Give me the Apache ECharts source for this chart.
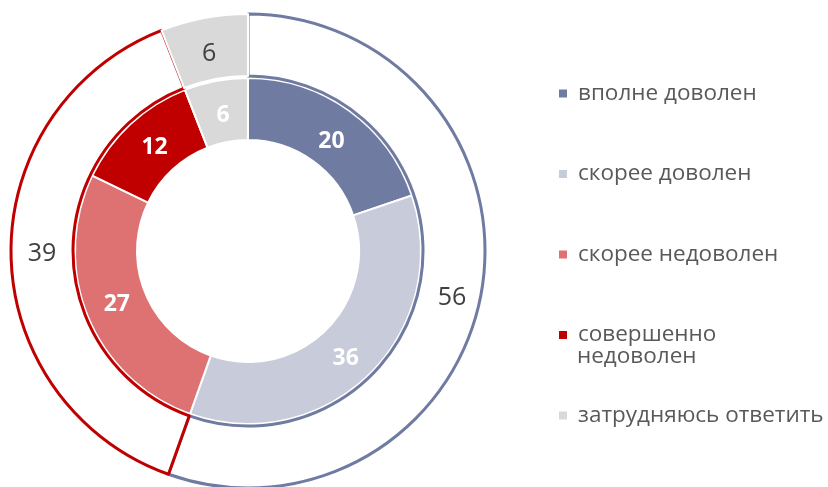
<!DOCTYPE html>
<html><head><meta charset="utf-8">
<script src="https://cdn.jsdelivr.net/npm/echarts@6/dist/echarts.min.js"></script>
<style>html,body{margin:0;padding:0;background:#fff}#c{width:828px;height:487px}</style>
</head><body><div id="c"></div>
<script>
const categories = ['вполне доволен','скорее доволен','скорее недоволен','совершенно недоволен','затрудняюсь ответить'];
const innerValues = [20, 36, 27, 12, 6];
const innerColors = ['#6F7BA1','#C8CBDA','#DE7171','#C00000','#D9D9D9'];
const outerNames = ['довольны','недовольны','затрудняются'];
const outerValues = [56, 39, 6];
const outerBorders = ['#6F7BA1','#C00000','#FFFFFF'];
const outerFills = ['#FFFFFF','#FFFFFF','#D9D9D9'];
const innerLabelOffsets = [[-1,8],[-4,4],[3,-2],[5,3],[2,7]];
const outerLabelOffsets = [[-2,11],[3,0],[0,8]];

const chart = echarts.init(document.getElementById('c'), null, {renderer:'canvas'});
const font = '"Open Sans", "Noto Sans", sans-serif';
chart.setOption({
  animation:false,
  legend:{
    orient:'vertical', left:552, top:77,
    itemWidth:10, itemHeight:10, itemGap:57.5, icon:'rect',
    selectedMode:false,
    data: categories,
    formatter: n => n === 'совершенно недоволен' ? 'совершенно' : n,
    textStyle:{color:'#595959', fontSize:22.5, fontFamily:font, lineHeight:20, padding:[0,0,0,5]}
  },
  graphic:[{type:'text', x:577, y:357, silent:true,
    style:{text:'недоволен', fill:'#595959', fontSize:22.5, fontFamily:font, verticalAlign:'middle'}}],
  series:[
    {type:'pie', center:[248,251], radius:[111,173], startAngle:90, silent:true,
     label:{show:true, position:'inside', formatter:'{c}', color:'#fff', fontWeight:'bold', fontSize:23, fontFamily:font},
     labelLine:{show:false},
     itemStyle:{borderColor:'#fff', borderWidth:2},
     data: categories.map((n,i)=>({name:n, value:innerValues[i], itemStyle:{color:innerColors[i]},
       label:{offset:innerLabelOffsets[i]}}))
    },
    {type:'pie', center:[248,251], radius:[175,237], startAngle:90, silent:true,
     label:{show:true, position:'inside', formatter:'{c}', color:'#404040', fontSize:25, fontFamily:font},
     labelLine:{show:false},
     data: outerNames.map((n,i)=>({name:n, value:outerValues[i],
       itemStyle:{color:outerFills[i], borderColor:outerBorders[i], borderWidth:i<2?3:2},
       label:{offset:outerLabelOffsets[i]}}))
    }
  ]
});
</script></body></html>
